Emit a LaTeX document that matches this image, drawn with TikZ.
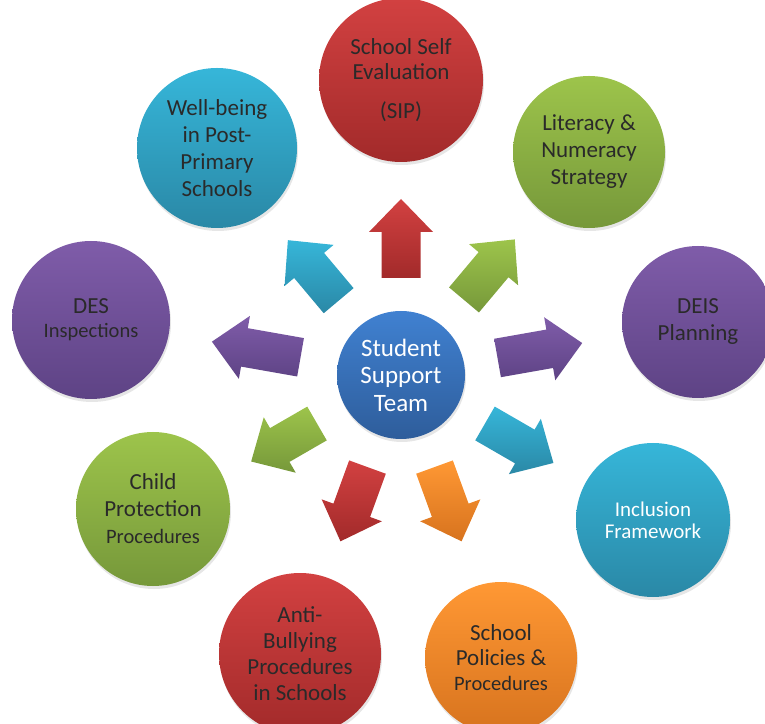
\documentclass[tikz,border=0pt]{standalone}
\usepackage{fontspec}
\setmainfont{Carlito}
\usepackage{tikz}
\usetikzlibrary{shadows}

\definecolor{topred}{HTML}{D24141}  \definecolor{botred}{HTML}{A22A2A}
\definecolor{topgrn}{HTML}{9DC44B}  \definecolor{botgrn}{HTML}{76983A}
\definecolor{toppur}{HTML}{7F5CA9}  \definecolor{botpur}{HTML}{5E4385}
\definecolor{topcyn}{HTML}{36B6D9}  \definecolor{botcyn}{HTML}{2A88A6}
\definecolor{toporg}{HTML}{FF9834}  \definecolor{botorg}{HTML}{D7731E}
\definecolor{topblu}{HTML}{4081D1}  \definecolor{botblu}{HTML}{2E5D9B}
\definecolor{txt}{HTML}{2A2A2A}

\tikzset{
  ball/.style={circle, inner sep=0pt, align=center, text=txt,
    font=\fontsize{23}{27}\selectfont,
    drop shadow={opacity=0.2, shadow xshift=1pt, shadow yshift=-3pt}},
  redball/.style={top color=topred, bottom color=botred},
  grnball/.style={top color=topgrn, bottom color=botgrn},
  purball/.style={top color=toppur, bottom color=botpur},
  cynball/.style={top color=topcyn, bottom color=botcyn},
  orgball/.style={top color=toporg, bottom color=botorg},
}
\newcommand{\smalltxt}{\fontsize{20.5}{25}\selectfont}

\begin{document}
\begin{tikzpicture}[x=1pt, y=1pt]
        \useasboundingbox (0, 0) rectangle (765, 723);
        \clip (0, 0) rectangle (765, 723);

        % hub
        \node[ball, top color=topblu, bottom color=botblu, minimum size=128pt,
              text=white, font=\fontsize{25}{27.5}\selectfont] (T) at (401, 348)
              {Student\\Support\\Team};

        % ring
        \node[ball, redball, minimum size=164pt, font=\fontsize{23}{25}\selectfont]
              (SIP) at (401, 643)
              {School Self\\Evaluation\\[14pt](SIP)};
        \node[ball, grnball, minimum size=152pt] (LN) at (589, 571)
              {Literacy \&\\Numeracy\\Strategy};
        \node[ball, purball, minimum size=152pt] (DEIS) at (698, 401)
              {DEIS\\Planning};
        \node[ball, cynball, minimum size=154pt, text=white,
              font=\fontsize{21}{22}\selectfont] (IF) at (653, 203)
              {Inclusion\\Framework};
        \node[ball, orgball, minimum size=152pt, font=\fontsize{23}{25}\selectfont]
              (SP) at (501, 65)
              {School\\Policies \&\\{\smalltxt Procedures}};
        \node[ball, redball, minimum size=162pt, font=\fontsize{23}{26}\selectfont]
              (AB) at (300, 69)
              {Anti-\\Bullying\\Procedures\\in Schools};
        \node[ball, grnball, minimum size=154pt] (CP) at (153, 214)
              {Child\\Protection\\{\smalltxt Procedures}};
        \node[ball, purball, minimum size=158pt, font=\fontsize{23}{24}\selectfont]
              (DES) at (91, 403)
              {DES\\{\smalltxt Inspections}};
        \node[ball, cynball, minimum size=160pt] (WB) at (217, 575)
              {Well-being\\in Post-\\Primary\\Schools};

        % block arrows out of the hub
        \foreach \a/\c/\d/\l in {90/red/97/79, 50/grn/98/79, 10/pur/98/86,
                                 -30/cyn/97/79, -70/org/98/79, -110/red/98/79,
                                 -150/grn/97/76, 170/pur/102/90, 130/cyn/97/79}
          \path[top color=top\c, bottom color=bot\c, shift={(T)}, rotate=\a]
            (\d, -19.5) -- ++(\l-33, 0) -- ++(0, -12.5) -- ++(33, 32)
            -- ++(-33, 32) -- ++(0, -12.5) -- ++(-\l+33, 0) -- cycle;
      \end{tikzpicture}
\end{document}
